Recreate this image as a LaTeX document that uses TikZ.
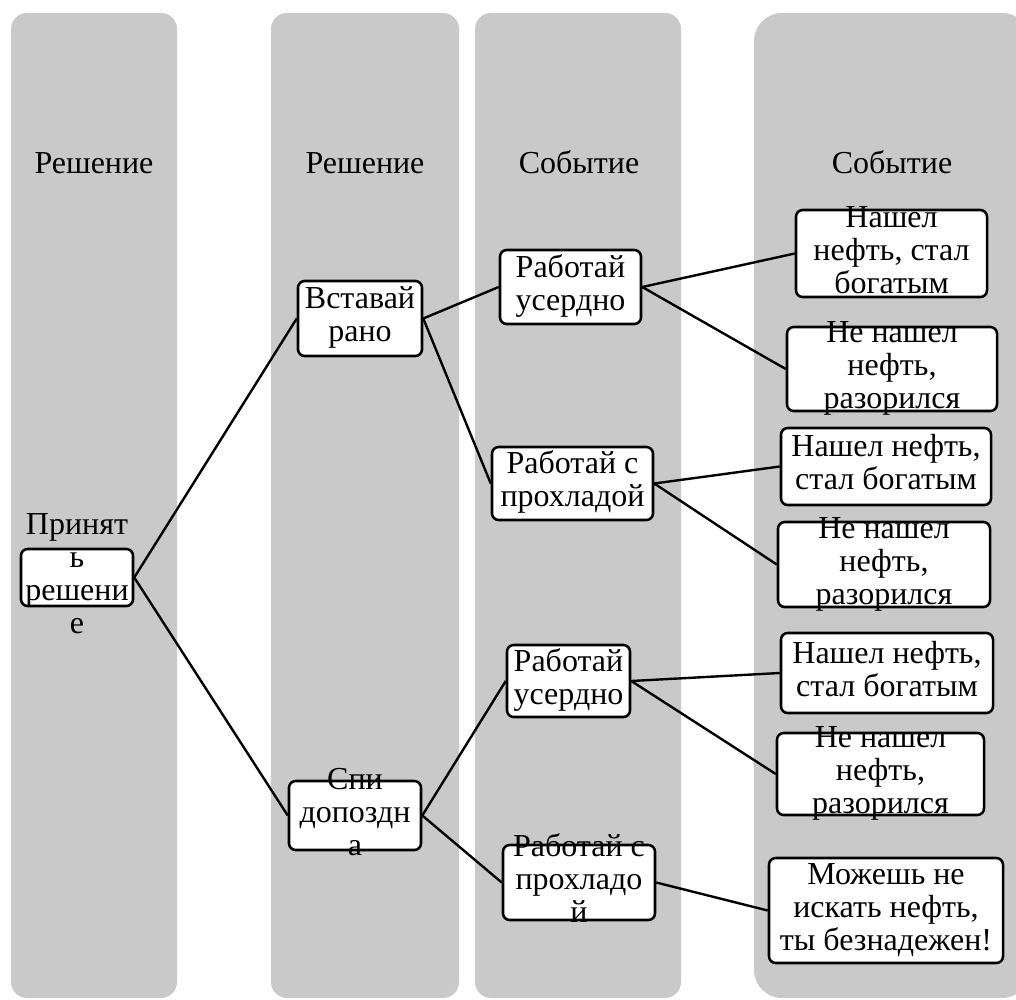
\documentclass[tikz,border=0pt]{standalone}
\usepackage{fontspec}
\setmainfont{Liberation Serif}
\newfontfamily\serfont{Liberation Serif}
\definecolor{lanegray}{RGB}{201,201,201}
\newcommand{\ovl}[1]{\makebox[0pt]{\raisebox{-0.27em}[0pt][0pt]{\begin{tabular}{@{}c@{}}#1\end{tabular}}}}
\begin{document}
\begin{tikzpicture}[x=0.75pt,y=-0.75pt,
  lane/.style={fill=lanegray},
  ttl/.style={anchor=base,inner sep=0pt,font=\serfont\fontsize{24pt}{24.75pt}\selectfont},
  box/.style={draw=black,fill=white,line width=1.9pt,rounded corners=5pt,inner sep=0pt,
    font=\serfont\fontsize{24pt}{24.75pt}\selectfont},
  conn/.style={draw=black,line width=1.8pt}]
\useasboundingbox (0,0) rectangle (1016,999);
% lanes
\fill[lane,rounded corners=12pt] (11,13) rectangle (177,998);
\fill[lane,rounded corners=12pt] (271,13) rectangle (459,998);
\fill[lane,rounded corners=12pt] (475,13) rectangle (681,998);
\fill[lane,rounded corners=21pt] (754,13) rectangle (1030,998);
% titles
\node[ttl] (t1) at (94,173) {Решение};
\node[ttl] (t2) at (365,173) {Решение};
\node[ttl] (t3) at (579,173) {Событие};
\node[ttl] (t4) at (892,173) {Событие};
% nodes
\node[box,minimum width={112*0.75pt},minimum height={57*0.75pt}] (root) at (77,577.5) {\ovl{Принят\\ь\\решени\\е}};
\node[box,minimum width={124*0.75pt},minimum height={75*0.75pt}] (early) at (360,318.5) {\ovl{Вставай\\рано}};
\node[box,minimum width={132*0.75pt},minimum height={69*0.75pt}] (late) at (355,815.5) {\ovl{Спи\\допоздн\\а}};
\node[box,minimum width={141*0.75pt},minimum height={74*0.75pt}] (w1) at (570.5,287) {\ovl{Работай\\усердно}};
\node[box,minimum width={161*0.75pt},minimum height={73*0.75pt}] (c1) at (572.5,483.5) {\ovl{Работай с\\прохладой}};
\node[box,minimum width={123*0.75pt},minimum height={72*0.75pt}] (w2) at (568.5,681) {\ovl{Работай\\усердно}};
\node[box,minimum width={152*0.75pt},minimum height={75*0.75pt}] (c2) at (579,882.5) {\ovl{Работай с\\прохладо\\й}};
\node[box,minimum width={191*0.75pt},minimum height={87*0.75pt}] (r1) at (891.5,253.5) {\ovl{Нашел\\нефть, стал\\богатым}};
\node[box,minimum width={210*0.75pt},minimum height={84*0.75pt}] (r2) at (892,369) {\ovl{Не нашел\\нефть,\\разорился}};
\node[box,minimum width={210*0.75pt},minimum height={77*0.75pt}] (r3) at (886,466.5) {\ovl{Нашел нефть,\\стал богатым}};
\node[box,minimum width={212*0.75pt},minimum height={85*0.75pt}] (r4) at (884,564.5) {\ovl{Не нашел\\нефть,\\разорился}};
\node[box,minimum width={212*0.75pt},minimum height={80*0.75pt}] (r5) at (887,673) {\ovl{Нашел нефть,\\стал богатым}};
\node[box,minimum width={207*0.75pt},minimum height={82*0.75pt}] (r6) at (880.5,774) {\ovl{Не нашел\\нефть,\\разорился}};
\node[box,minimum width={234*0.75pt},minimum height={105*0.75pt}] (r7) at (886,910.5) {\ovl{Можешь не\\искать нефть,\\ты безнадежен!}};
% connectors
\draw[conn] (root.east) -- (early.west);
\draw[conn] (root.east) -- (late.west);
\draw[conn] (early.east) -- (w1.west);
\draw[conn] (early.east) -- (c1.west);
\draw[conn] (late.east) -- (w2.west);
\draw[conn] (late.east) -- (c2.west);
\draw[conn] (w1.east) -- (r1.west);
\draw[conn] (w1.east) -- (r2.west);
\draw[conn] (c1.east) -- (r3.west);
\draw[conn] (c1.east) -- (r4.west);
\draw[conn] (w2.east) -- (r5.west);
\draw[conn] (w2.east) -- (r6.west);
\draw[conn] (c2.east) -- (r7.west);
\end{tikzpicture}
\end{document}
